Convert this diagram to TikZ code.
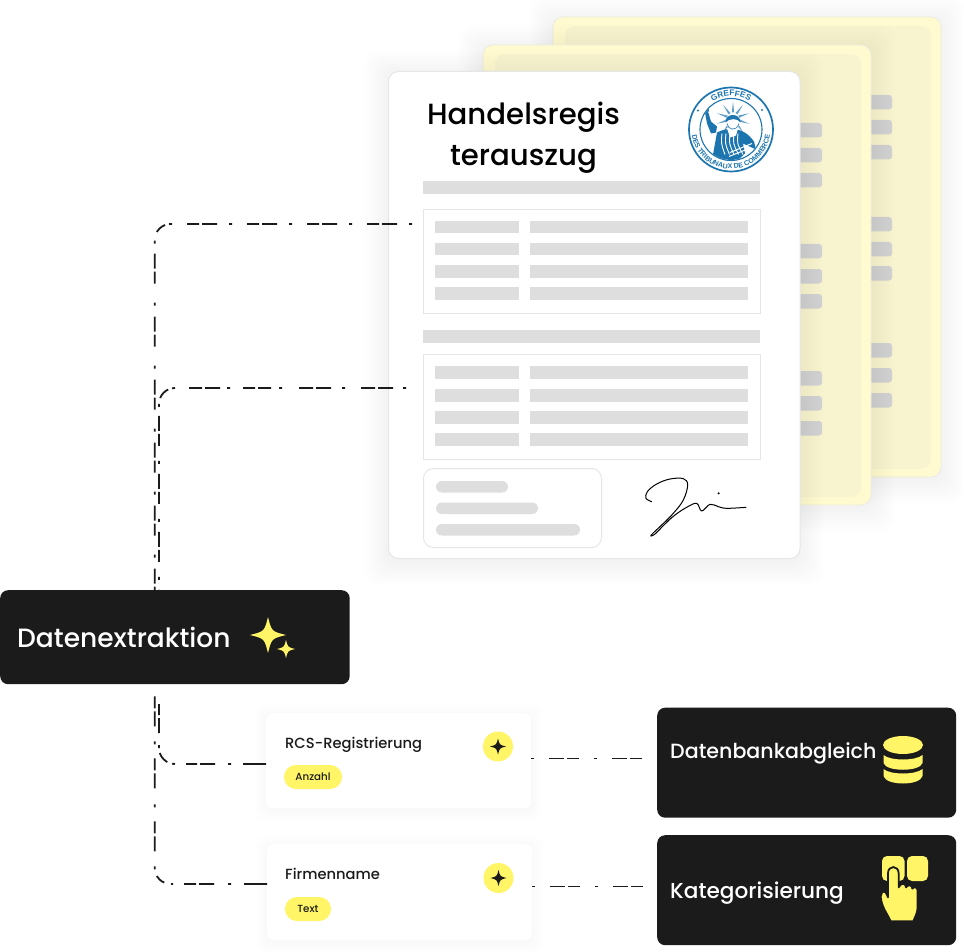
\documentclass[tikz,border=0pt]{standalone}
\usepackage{fontspec}
\setmainfont{Poppins}[UprightFont={* Medium}]
\newfontfamily\sealfont{Liberation Sans}
\usetikzlibrary{decorations.text}
\definecolor{ink}{HTML}{1B1B1B}
\definecolor{sun}{HTML}{FFF566}
\definecolor{paleY}{HTML}{FFFAD0}
\definecolor{paleIn}{HTML}{F9F4D0}
\definecolor{barG}{HTML}{DEDEDE}
\definecolor{blockG}{HTML}{D2D2D2}
\definecolor{edgeG}{HTML}{E6E6E6}
\definecolor{seal}{HTML}{1D75B0}
\tikzset{
  darkbox/.style={rectangle,fill=ink,rounded corners=8pt,inner sep=0pt,anchor=north west},
  cardbox/.style={rectangle,fill=white,rounded corners=7pt,inner sep=0pt,anchor=north west},
  pillbox/.style={rectangle,fill=sun,rounded corners=11.9pt,inner sep=0pt,anchor=center,minimum height=24pt},
  dotbox/.style={circle,fill=sun,inner sep=0pt,minimum size=30pt,anchor=center},
  wlabel/.style={text=white,inner sep=0pt,anchor=base west,font=\fontsize{#1}{#1}\selectfont},
  klabel/.style={text=ink,inner sep=0pt,anchor=base west,font=\fontsize{#1}{#1}\selectfont},
  link/.style={draw=ink,line width=1.8pt},
  docsheet/.style={rounded corners=10pt,fill=paleY,draw=edgeG!70!paleY,line width=.8pt},
  docinner/.style={rounded corners=10pt,fill=paleIn},
  block/.style={fill=blockG,rounded corners=3pt},
  bar/.style={fill=barG},
  tbl/.style={draw=edgeG,line width=1pt,fill=white},
}
\newcommand{\softsh}[4]{\foreach \i in {2,4,...,24}{\fill[black,opacity=.0035,rounded corners=14pt] ({#1-\i},{#2-\i+3}) rectangle ({#3+\i},{#4+\i+3});}}
\newcommand{\cardsh}[4]{\foreach \i in {1,3,...,11}{\fill[black,opacity=.0035,rounded corners=9pt] ({#1-\i},{#2-\i+2}) rectangle ({#3+\i},{#4+\i+2});}}
\newcommand{\sparkle}[4]{\fill[#4,shift={(#1,#2)},scale=#3] (0,-1) .. controls (.2,-.2) .. (1,0) .. controls (.2,.2) .. (0,1) .. controls (-.2,.2) .. (-1,0) .. controls (-.2,-.2) .. cycle;}
\begin{document}
\begin{tikzpicture}[x=1pt,y=-1pt]
\useasboundingbox (0,0) rectangle (964,952);
\fill[white] (0,0) rectangle (964,952);

% ---- back sheets
\softsh{553}{17}{941}{477}
\draw[docsheet] (553,17) rectangle (941,477);
\fill[docinner] (565,26) rectangle (931,469);
\foreach \y in {95,120,145,217,242,266,343,368,393}{\fill[block] (840,\y) rectangle (892,\y+14.5);}
\softsh{483}{45}{871}{505}
\draw[docsheet] (483,45) rectangle (871,505);
\fill[docinner] (495,54) rectangle (861,497);
\foreach \y in {123,148,173,244,269,294,371,396,421}{\fill[block] (770,\y) rectangle (822,\y+14.5);}

% ---- front sheet
\softsh{388}{71}{799.5}{558}
\node[rectangle,draw=edgeG,fill=white,line width=1pt,rounded corners=10pt,inner sep=0pt,anchor=north west,minimum width=411.5pt,minimum height=487pt] (sheet) at (388,71) {};
\node[klabel=29.2,text=black,anchor=base] (title1) at (523.5,124.5) {Handelsregis};
\node[klabel=29.2,text=black,anchor=base] (title2) at (523.5,165.5) {terauszug};

\fill[bar] (423,181) rectangle (760,194);
\fill[bar] (423,330) rectangle (760,343);
\node[tbl,rectangle,inner sep=0pt,anchor=north west,minimum width=337pt,minimum height=104pt] (tableA) at (423,209) {};
\node[tbl,rectangle,inner sep=0pt,anchor=north west,minimum width=337pt,minimum height=105pt] (tableB) at (423,354) {};
\foreach \y in {221,243,265,287,366,389,411,433}{
  \fill[bar] (435,\y) rectangle (518.5,\y+12.5);
  \fill[bar] (530,\y) rectangle (748,\y+12.5);
}
\node[rectangle,draw=edgeG,fill=white,line width=1pt,rounded corners=10pt,inner sep=0pt,anchor=north west,minimum width=178pt,minimum height=79pt] (stamp) at (423,468) {};
\fill[bar,rounded corners=5.8pt] (436,481) rectangle (508,492.5);
\fill[bar,rounded corners=5.8pt] (436,502.5) rectangle (538,514);
\fill[bar,rounded corners=5.8pt] (436,524) rectangle (580,535.5);

% signature
\begin{scope}[shift={(620,460)},scale=.3333]
\draw[black,line width=1pt,line join=round,line cap=round]
 plot[smooth,tension=.6] coordinates {(95,125) (78,115) (82,95) (110,72) (150,57) (190,56) (203,75) (190,120) (160,160) (125,195) (93,226) (105,222) (135,192) (165,165) (200,142) (230,130) (245,153) (270,133) (295,140) (320,145) (378,142)};
\fill[black] (296,100) circle (3.5);
\end{scope}

% seal
\begin{scope}[shift={(731,129.5)},x=1pt,y=1pt]
\draw[seal,line width=1.7pt] (0,0) circle (42);
\draw[seal,line width=1.1pt] (0,0) circle (31);
\fill[seal] (-33,19) circle (1.2);
\fill[seal] (31,19.5) circle (1.2);
\path[decorate,decoration={text along path,text align=center,text={|\sealfont\bfseries\fontsize{8.2}{9}\selectfont\color{seal}|GREFFES}}] (150:33.5) arc (150:30:33.5);
\path[decorate,decoration={text along path,text align=center,text={|\sealfont\bfseries\fontsize{7}{9}\selectfont\color{seal}|DES TRIBUNAUX DE COMMERCE}}] (178:39.5) arc (178:362:39.5);
\begin{scope}
\clip (0,0) circle (30.4);
\foreach \a in {0,36,...,324}{
  \fill[seal!70!white,rotate around={\a:(2,11)}] (2,28) -- (3.2,17) -- (.8,17) -- cycle;
}
% robe
\fill[seal] (-14,-3) .. controls (-8,0) and (-3,1) .. (0,0) -- (6,0) .. controls (12,-1) and (18,-5) .. (23,-12)
  -- (25,-20) -- (12,-14) -- (14,-24) -- (-3,-40) -- (-18,-25) -- cycle;
\fill[white] (-4,1) -- (7,1) -- (5,-6) -- (-1,-8) -- cycle;
\foreach \k in {0,1,2,3,4}{\draw[white,line width=.9pt] (-9+\k*4,-4) .. controls (-10+\k*4,-14) .. (-6+\k*4.5,-25);}
\draw[white,line width=1pt] (-2,-27) -- (18,-19);
\draw[white,line width=1pt] (-1,-23) -- (21,-14);
% arm and torch
\fill[seal] (-15,-3) -- (-20,-4) -- (-24,6) -- (-26,17) -- (-23,18) -- (-20,8) -- (-14,3) -- cycle;
\fill[seal] (-27,17) -- (-22,18) -- (-23,27) -- (-26,24) -- cycle;
% head
\fill[white] (2,7) circle (6.8);
\draw[seal,line width=.6pt] (-4,6) .. controls (-3.4,0) and (5,-3) .. (8,6);
\fill[seal] (-5.5,7) .. controls (-6,17) and (9.5,17) .. (9.5,7) .. controls (7,11.5) and (-2,11.5) .. (-5.5,7) -- cycle;
\end{scope}
\end{scope}

% ---- connectors
\coordinate (anchorA) at (412,224);
\coordinate (anchorB) at (406,388);
\coordinate (railA) at (154.7,0);
\coordinate (railB) at (159,0);
\coordinate (levC) at (0,764);
\coordinate (levD) at (0,884);
\coordinate (levE) at (0,758.5);
\coordinate (levF) at (0,886.5);

\cardsh{266}{713}{531}{808}
\cardsh{267}{844}{532}{940}
\node[darkbox,minimum width=349.5pt,minimum height=94pt] (extract) at (0,590) {};
\node[darkbox,minimum width=299pt,minimum height=110pt] (dbbox) at (657,707.5) {};
\node[darkbox,minimum width=299pt,minimum height=110pt] (catbox) at (657,835) {};
\node[cardbox,minimum width=265pt,minimum height=95pt] (cardA) at (266,713) {};
\node[cardbox,minimum width=265pt,minimum height=96pt] (cardB) at (267,844) {};

\draw[link,rounded corners=16pt,dash pattern=on 3pt off 12pt on 15pt off 3pt on 12pt off 15pt on 3pt off 12pt on 15pt off 3pt on 12pt off 15pt on 3pt off 12pt on 15pt off 3pt on 12pt off 15pt on 3pt off 12pt on 15pt off 3pt on 12pt off 15pt on 3pt off 4pt on 11pt off 9pt on 3pt off 10pt on 15pt off 3pt on 12pt off 19pt on 3pt off 11pt on 15pt off 3pt on 12pt off 19pt on 3pt off 11pt on 15pt off 3pt on 12pt off 19pt on 3pt off 11pt on 15pt off 3pt on 12pt off 19pt on 3pt off 11pt on 15pt off 3pt on 12pt off 19pt on 3pt off 11pt on 15pt off 3pt on 12pt off 100pt]
  (anchorA) -- (anchorA -| railA) -- (railA |- extract.north);
\draw[link,rounded corners=16pt,dash pattern=on 3pt off 10pt on 15pt off 3pt on 14pt off 16pt on 3pt off 11pt on 15pt off 3pt on 14pt off 17pt on 3pt off 8pt on 13pt off 3pt on 12pt off 13pt on 3pt off 7pt on 15pt off 3pt on 13pt off 14pt on 3pt off 4pt on 12pt off 6pt on 3pt off 9pt on 15pt off 3pt on 12pt off 15pt on 3pt off 10pt on 15pt off 3pt on 12pt off 15pt on 3pt off 10pt on 15pt off 3pt on 12pt off 15pt on 3pt off 10pt on 3pt off 100pt]
  (anchorB) -- (anchorB -| railB) -- (railB |- extract.north);
\draw[link,rounded corners=16pt,dash pattern=on 23pt off 12pt on 3pt off 13pt on 15pt off 3pt on 11pt off 11pt on 3pt off 5pt on 12pt off 5pt on 3pt off 12pt on 15pt off 3pt on 11pt off 100pt]
  (cardA.west |- levC) -- (railB |- levC) -- (railB |- extract.south);
\draw[link,rounded corners=16pt,dash pattern=on 23pt off 13pt on 3pt off 14pt on 15pt off 3pt on 12pt off 11pt on 2pt off 7pt on 10pt off 7pt on 3pt off 15pt on 15pt off 3pt on 12pt off 14pt on 3pt off 16pt on 15pt off 3pt on 12pt off 14pt on 3pt off 15pt on 15pt off 3pt on 12pt off 100pt]
  (cardB.west |- levD) -- (railA |- levD) -- (railA |- extract.south);
\draw[link,dash pattern=on 3pt off 15pt on 15pt off 3pt on 12pt off 15pt] (cardA.east |- levE) -- (dbbox.west |- levE);
\draw[link,dash pattern=on 3pt off 15pt on 15pt off 3pt on 12pt off 15pt] (cardB.east |- levF) -- (catbox.west |- levF);

\node[wlabel=26.5] (extractText) at (17,647) {Datenextraktion};
\sparkle{268}{635}{18}{sun}
\sparkle{286}{649}{9}{sun}

\node[klabel=14.7] (rcsText) at (285,748) {RCS-Registrierung};
\node[pillbox,minimum width=58pt] (pillA) at (313,777) {};
\node[klabel=10.3,anchor=base] (pillAText) at (313,780.5) {Anzahl};
\node[dotbox] (dotA) at (498,746.5) {};
\sparkle{498}{746.5}{8}{ink}

\node[klabel=14.7] (firmText) at (285,879.5) {Firmenname};
\node[pillbox,minimum width=46pt] (pillB) at (308,909) {};
\node[klabel=10.3,anchor=base] (pillBText) at (308,912.5) {Text};
\node[dotbox] (dotB) at (498.5,878) {};
\sparkle{498.5}{878}{8}{ink}

\node[wlabel=20.6] (dbText) at (670,758) {Datenbankabgleich};
\node[wlabel=21.6] (catText) at (670,898) {Kategorisierung};

% database icon
\fill[sun] (903,745) ellipse (20 and 9);
\fill[sun] (883.5,755) .. controls (890,761) and (916,761) .. (922.5,755) -- (922.5,763) .. controls (920,772) and (886,772) .. (883.5,763) -- cycle;
\fill[sun] (883.5,769) .. controls (890,775) and (916,775) .. (922.5,769) -- (922.5,776) .. controls (920,786) and (886,786) .. (883.5,776) -- cycle;

% hand icon
\fill[sun,rounded corners=5pt] (882,856) rectangle (904.5,881);
\fill[sun,rounded corners=5pt] (907,856) rectangle (928,881);
\begin{scope}[shift={(650,700)},scale=.3333]
\fill[sun,draw=ink,line width=1.8pt,line join=round]
 (692,590) -- (696,578) .. controls (702,570) and (710,578) .. (714,592) -- (714,520) .. controls (714,495) and (746,495) .. (746,520) -- (746,562)
 .. controls (752,548) and (768,548) .. (768,562) .. controls (775,552) and (787,555) .. (787,566) .. controls (793,558) and (803,562) .. (803,572)
 -- (803,620) .. controls (803,640) and (795,650) .. (790,664) -- (722,664) .. controls (712,640) and (696,625) .. cycle;
\end{scope}
\end{tikzpicture}
\end{document}
